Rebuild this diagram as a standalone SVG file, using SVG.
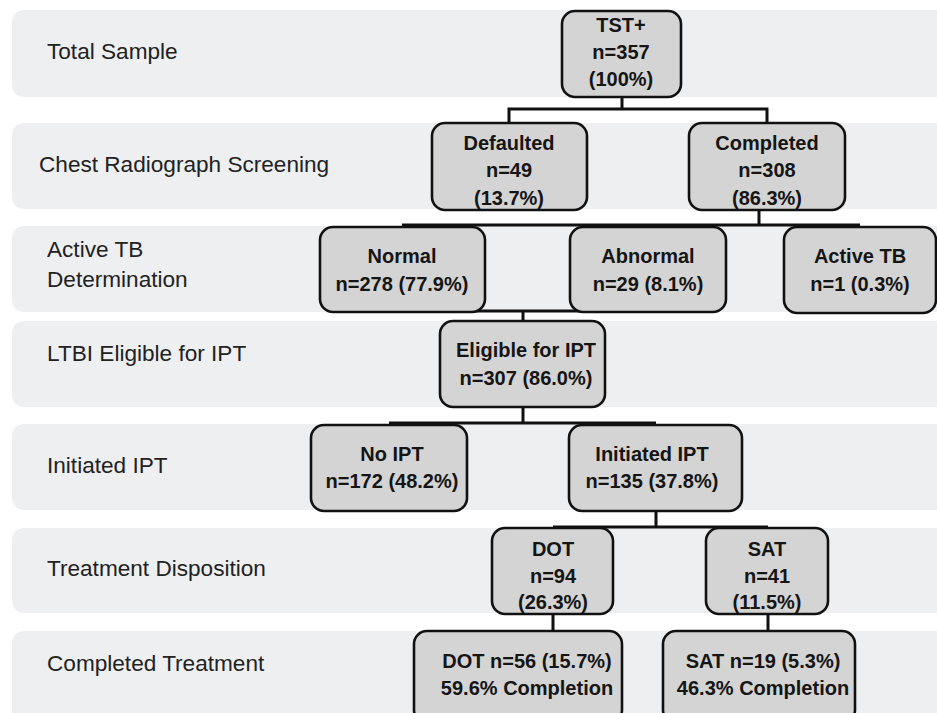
<svg xmlns="http://www.w3.org/2000/svg" width="937" height="713" viewBox="0 0 937 713">
<style>
.band{fill:#eeeff1;stroke:none}
.lbl{font-family:"Liberation Sans",Arial,sans-serif;font-size:22.6px;fill:#222222}
.box{fill:#d4d4d4;stroke:#111;stroke-width:2.6}
.t{font-family:"Liberation Sans",Arial,sans-serif;font-size:20px;font-weight:bold;fill:#151515;text-anchor:middle}
.conn{fill:none;stroke:#111;stroke-width:3}
</style>
<rect width="937" height="713" fill="#ffffff"/>
<g id="bands">
<rect class="band" x="12" y="10" width="940" height="87" rx="12"/>
<rect class="band" x="12" y="123" width="940" height="86" rx="12"/>
<rect class="band" x="12" y="226" width="940" height="86" rx="12"/>
<rect class="band" x="12" y="321" width="940" height="86" rx="12"/>
<rect class="band" x="12" y="424" width="940" height="86" rx="12"/>
<rect class="band" x="12" y="528" width="940" height="85" rx="12"/>
<rect class="band" x="12" y="631" width="940" height="95" rx="12"/>
</g>
<g id="labels">
<text class="lbl" x="47" y="59">Total Sample</text>
<text class="lbl" x="39" y="172">Chest Radiograph Screening</text>
<text class="lbl" x="47" y="257">Active TB</text>
<text class="lbl" x="47" y="287">Determination</text>
<text class="lbl" x="47" y="361">LTBI Eligible for IPT</text>
<text class="lbl" x="47" y="473">Initiated IPT</text>
<text class="lbl" x="47" y="576">Treatment Disposition</text>
<text class="lbl" x="47" y="671">Completed Treatment</text>
</g>
<g id="connectors">
<path class="conn" d="M622 97V109M509 122V109H767V122"/>
<path class="conn" d="M759 210V225M402 225H860"/>
<path class="conn" d="M402 311H648M523 311V321"/>
<path class="conn" d="M523 407V423M389 423H656"/>
<path class="conn" d="M656 511V527M553 527H768"/>
<path class="conn" d="M553 614V631M768 614V631"/>
</g>
<g id="n-tst">
<rect class="box" x="562" y="11" width="119" height="86" rx="13"/>
<text class="t" x="621" y="32">TST+</text>
<text class="t" x="621" y="59">n=357</text>
<text class="t" x="621" y="86">(100%)</text>
</g>
<g id="n-defaulted">
<rect class="box" x="432" y="123" width="155" height="87" rx="13"/>
<text class="t" x="509" y="150">Defaulted</text>
<text class="t" x="509" y="177">n=49</text>
<text class="t" x="509" y="205">(13.7%)</text>
</g>
<g id="n-completed">
<rect class="box" x="689" y="123" width="156" height="87" rx="13"/>
<text class="t" x="767" y="150">Completed</text>
<text class="t" x="767" y="177">n=308</text>
<text class="t" x="767" y="205">(86.3%)</text>
</g>
<g id="n-normal">
<rect class="box" x="320" y="227" width="165" height="85" rx="13"/>
<text class="t" x="402" y="263">Normal</text>
<text class="t" x="402" y="291">n=278 (77.9%)</text>
</g>
<g id="n-abnormal">
<rect class="box" x="570" y="227" width="156" height="85" rx="13"/>
<text class="t" x="648" y="263">Abnormal</text>
<text class="t" x="648" y="291">n=29 (8.1%)</text>
</g>
<g id="n-activetb">
<rect class="box" x="784" y="227" width="152" height="86" rx="13"/>
<text class="t" x="860" y="263">Active TB</text>
<text class="t" x="860" y="291">n=1 (0.3%)</text>
</g>
<g id="n-eligible">
<rect class="box" x="440" y="321" width="165" height="86" rx="13"/>
<text class="t" x="526" y="357">Eligible for IPT</text>
<text class="t" x="526" y="385">n=307 (86.0%)</text>
</g>
<g id="n-noipt">
<rect class="box" x="311" y="425" width="156" height="86" rx="13"/>
<text class="t" x="392" y="461">No IPT</text>
<text class="t" x="392" y="488">n=172 (48.2%)</text>
</g>
<g id="n-initiated">
<rect class="box" x="569" y="425" width="173" height="86" rx="13"/>
<text class="t" x="652" y="461">Initiated IPT</text>
<text class="t" x="652" y="488">n=135 (37.8%)</text>
</g>
<g id="n-dot">
<rect class="box" x="492" y="528" width="121" height="86" rx="13"/>
<text class="t" x="553" y="556">DOT</text>
<text class="t" x="553" y="583">n=94</text>
<text class="t" x="553" y="609">(26.3%)</text>
</g>
<g id="n-sat">
<rect class="box" x="706" y="528" width="122" height="86" rx="13"/>
<text class="t" x="767" y="556">SAT</text>
<text class="t" x="767" y="583">n=41</text>
<text class="t" x="767" y="609">(11.5%)</text>
</g>
<g id="n-dotcomp">
<rect class="box" x="414" y="631" width="208" height="92" rx="13"/>
<text class="t" x="527" y="668">DOT n=56 (15.7%)</text>
<text class="t" x="527" y="695">59.6% Completion</text>
</g>
<g id="n-satcomp">
<rect class="box" x="663" y="631" width="192" height="92" rx="13"/>
<text class="t" x="763" y="668">SAT n=19 (5.3%)</text>
<text class="t" x="763" y="695">46.3% Completion</text>
</g>
</svg>
